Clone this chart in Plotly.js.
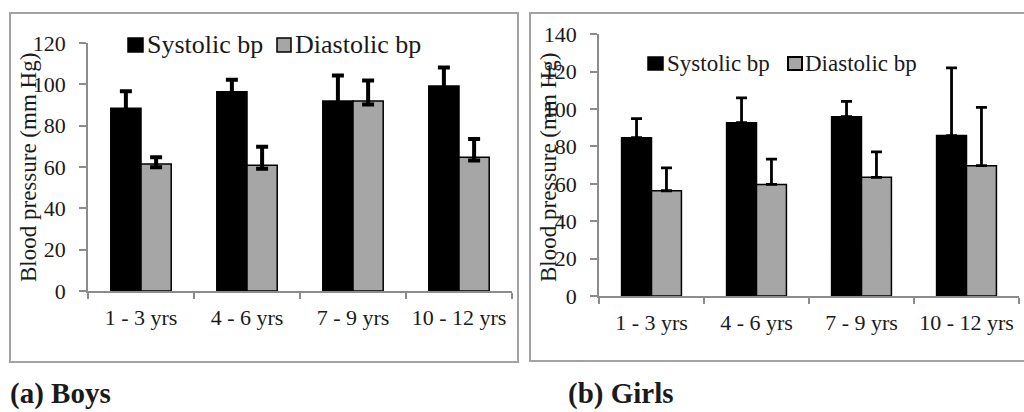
<!DOCTYPE html>
<html>
<head>
<meta charset="utf-8">
<script src="https://cdn.plot.ly/plotly-3.0.1.min.js"></script>
<style>html,body{margin:0;padding:0;background:#fff;}#chart{width:1024px;height:412px;}</style>
</head>
<body>
<div id="chart"></div>
<script>
// ---- data ----
const categories = ["1 - 3 yrs", "4 - 6 yrs", "7 - 9 yrs", "10 - 12 yrs"];
const seriesNames = ["Systolic bp", "Diastolic bp"];

const boysSystolic = [88.4, 96.4, 91.9, 99.2];
const boysSystolicErr = [8.2, 5.8, 12.4, 8.9];
const boysSystolicErrMinus = [1.5, 1.5, 1.5, 1.5];
const boysDiastolic = [61.5, 60.8, 91.9, 64.7];
const boysDiastolicErr = [3.2, 9.0, 9.9, 8.8];
const boysDiastolicErrMinus = [1.6, 1.6, 1.6, 1.6];

const girlsSystolic = [84.7, 92.7, 95.9, 85.8];
const girlsSystolicErr = [10.2, 13.3, 8.2, 36.2];
const girlsDiastolic = [56.3, 59.7, 63.5, 69.7];
const girlsDiastolicErr = [12.2, 13.5, 13.6, 31.2];

const boysYTicks = [0, 20, 40, 60, 80, 100, 120];
const girlsYTicks = [0, 20, 40, 60, 80, 100, 120, 140];

const yTitle = "Blood pressure (mm Hg)";
const panelLabels = ["(a) Boys", "(b) Girls"];

// ---- styling ----
const W = 1024, H = 412;
const px = v => v / W;
const py = v => 1 - v / H;
const FAM_TICK = "Times New Roman";
const FAM_ANN = "Liberation Serif";
const txt = "#1a1a1a";
const axisGrey = "#8c8c8c";
const black = "#000000";
const grey = "#a6a6a6";

function bar(x, y, err, errMinus, color, name, xa, ya, thick, capw) {
  const e = {type: "data", array: err, visible: true, color: black, thickness: thick, width: capw,
             symmetric: false, arrayminus: errMinus ? errMinus : err.map(() => 0)};
  return {
    type: "bar", x: x, y: y, name: name, xaxis: xa, yaxis: ya,
    marker: {color: color, line: {color: black, width: 1.5}},
    error_y: e, hoverinfo: "x+y+name"
  };
}

const data = [
  bar(categories, boysSystolic, boysSystolicErr, boysSystolicErrMinus, black, seriesNames[0], "x", "y", 4, 6),
  bar(categories, boysDiastolic, boysDiastolicErr, boysDiastolicErrMinus, grey, seriesNames[1], "x", "y", 4, 6),
  bar(categories, girlsSystolic, girlsSystolicErr, null, black, seriesNames[0], "x2", "y2", 2.8, 5.5),
  bar(categories, girlsDiastolic, girlsDiastolicErr, null, grey, seriesNames[1], "x2", "y2", 2.8, 5.5)
];

function xAxis(domain, anchor) {
  return {
    domain: domain, anchor: anchor, type: "category", range: [-0.5, 3.5],
    showline: true, linecolor: axisGrey, linewidth: 1.5,
    ticks: "outside", tickson: "boundaries", ticklen: 6, tickcolor: axisGrey, tickwidth: 1.5,
    ticklabelstandoff: 6,
    tickfont: {family: FAM_TICK, size: 22, color: txt},
    showgrid: false, zeroline: false, fixedrange: true
  };
}
function yAxis(domain, anchor, range, ticks) {
  return {
    domain: domain, anchor: anchor, range: range,
    tickmode: "array", tickvals: ticks, ticktext: ticks.map(String),
    showline: true, linecolor: axisGrey, linewidth: 1.5,
    ticks: "outside", ticklen: 7, tickcolor: axisGrey, tickwidth: 1.5,
    ticklabelstandoff: 9,
    tickfont: {family: FAM_TICK, size: 22, color: txt},
    showgrid: false, zeroline: false, fixedrange: true
  };
}

const shapes = [
  {type: "rect", xref: "paper", yref: "paper", x0: px(10), x1: px(518), y0: py(362), y1: py(13),
   line: {color: "#a3a3a3", width: 2}},
  {type: "rect", xref: "paper", yref: "paper", x0: px(530), x1: px(1030), y0: py(361), y1: py(13),
   line: {color: "#a3a3a3", width: 2}},
  {type: "rect", xref: "paper", yref: "paper", x0: px(128), x1: px(143), y0: py(52), y1: py(38),
   fillcolor: black, line: {color: black, width: 1.5}},
  {type: "rect", xref: "paper", yref: "paper", x0: px(277), x1: px(291), y0: py(52), y1: py(38),
   fillcolor: grey, line: {color: black, width: 1.5}},
  {type: "rect", xref: "paper", yref: "paper", x0: px(648), x1: px(663), y0: py(70), y1: py(57),
   fillcolor: black, line: {color: black, width: 1.5}},
  {type: "rect", xref: "paper", yref: "paper", x0: px(788), x1: px(802), y0: py(70), y1: py(57),
   fillcolor: grey, line: {color: black, width: 2}}
];

function ann(text, x, y, size, extra) {
  return Object.assign({text: text, xref: "paper", yref: "paper", x: px(x), y: py(y), showarrow: false,
    xanchor: "left", yanchor: "middle", font: {family: FAM_ANN, size: size, color: txt}}, extra || {});
}

const annotations = [
  ann(yTitle, 28, 168, 23, {textangle: -90, xanchor: "center"}),
  ann(yTitle, 548, 168, 23, {textangle: -90, xanchor: "center"}),
  ann("<b>" + panelLabels[0] + "</b>", 8, 393, 29),
  ann("<b>" + panelLabels[1] + "</b>", 566, 393, 29),
  ann(seriesNames[0], 145, 45, 26),
  ann(seriesNames[1], 293, 45, 26),
  ann(seriesNames[0], 665, 63, 23),
  ann(seriesNames[1], 803, 63, 23)
];

const layout = {
  width: W, height: H,
  margin: {l: 0, r: 0, t: 0, b: 0, pad: 0},
  paper_bgcolor: "#ffffff", plot_bgcolor: "rgba(0,0,0,0)",
  showlegend: false, barmode: "group", bargap: 0.43, bargroupgap: 0,
  xaxis: xAxis([px(88), px(512)], "y"),
  yaxis: yAxis([py(291), py(43)], "x", [0, 120], boysYTicks),
  xaxis2: xAxis([px(599), px(1019)], "y2"),
  yaxis2: yAxis([py(296), py(34.3)], "x2", [0, 140], girlsYTicks),
  shapes: shapes, annotations: annotations
};

Plotly.newPlot("chart", data, layout, {displayModeBar: false});
</script>
</body>
</html>
